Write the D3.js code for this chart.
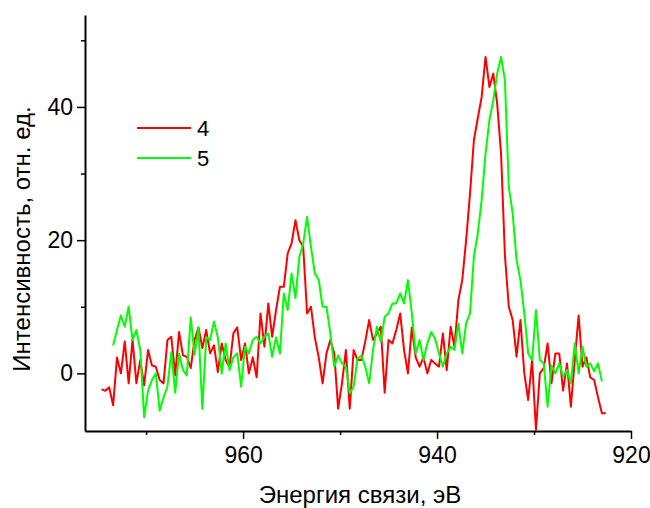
<!DOCTYPE html>
<html>
<head>
<meta charset="utf-8">
<script src="https://cdn.jsdelivr.net/npm/d3@7"></script>
<style>
  html, body { margin: 0; padding: 0; background: #fff; }
  svg { display: block; font-family: "Liberation Sans", Arial, sans-serif; }
</style>
</head>
<body>
<svg id="chart" width="650" height="508"></svg>
<script>
// Binding energy grid (eV)
const energies = [
  974.6, 974.2, 973.8, 973.4, 973.0, 972.6, 972.2, 971.8, 971.4, 971.0,
  970.6, 970.2, 969.8, 969.4, 969.0, 968.6, 968.2, 967.8, 967.4, 967.0,
  966.6, 966.2, 965.8, 965.4, 965.0, 964.6, 964.2, 963.8, 963.4, 963.0,
  962.6, 962.2, 961.8, 961.4, 961.0, 960.6, 960.2, 959.8, 959.4, 959.0,
  958.6, 958.2, 957.8, 957.4, 957.0, 956.6, 956.2, 955.8, 955.4, 955.0,
  954.6, 954.2, 953.8, 953.4, 953.0, 952.6, 952.2, 951.8, 951.4, 951.0,
  950.6, 950.2, 949.8, 949.4, 949.0, 948.6, 948.2, 947.8, 947.4, 947.0,
  946.6, 946.2, 945.8, 945.4, 945.0, 944.6, 944.2, 943.8, 943.4, 943.0,
  942.6, 942.2, 941.8, 941.4, 941.0, 940.6, 940.2, 939.8, 939.4, 939.0,
  938.6, 938.2, 937.8, 937.4, 937.0, 936.6, 936.2, 935.8, 935.4, 935.0,
  934.6, 934.2, 933.8, 933.4, 933.0, 932.6, 932.2, 931.8, 931.4, 931.0,
  930.6, 930.2, 929.8, 929.4, 929.0, 928.6, 928.2, 927.8, 927.4, 927.0,
  926.6, 926.2, 925.8, 925.4, 925.0, 924.6, 924.2, 923.8, 923.4, 923.0,
  922.6
];

// Series "4" (red)
const series4 = [
  -2.4, -2.6, -2.1, -4.8, 2.4, 0, 4.8, -1.5, 5, -1.5,
  2, -1.8, 3.5, 1.2, 1, -1, -1.5, 5, 5.5, -0.3,
  6.2, 2.7, 2.5, 0.8, 5, 6.9, 3.8, 6.5, 3, 4.2,
  0.2, 4.5, 2, 0.9, 6, 6.9, 2, 4.5, 0, 2.4,
  -0.6, 9, 4, 10.5, 5.5, 9.5, 13, 13, 18, 19.5,
  23, 20, 19, 9, 10, 5.4, 2.4, -1.5, 3, 5,
  3, -5.3, -1.5, 3.5, -5.3, 3.5, 2, 2, 4.8, 8,
  5, 6, 7, -2.9, 5, 4.5, 6.5, 9, 3.5, 0,
  6.9, 2.4, 1, 2.4, 0, 2, 1.5, 1, 6, 0.5,
  7, 4, 11, 14, 20, 27, 35, 38.3, 41.5, 47.5,
  43, 45, 40.5, 33, 17.7, 10, 8, 2.5, 8, 0,
  -4, 2, -8.5, 0, 0.8, 4.5, -1.5, 3, 3, -2.6,
  1.5, -5, 2, 8.7, 1, 2.4, -0.6, -1, -3.6, -6,
  -6
];

// Series "5" (green)
const series5 = [
  null, null, null, 4.2, 6.5, 8.7, 7, 10, 5, 6.5,
  3.5, -6.6, -2.6, -1, 0, -5.6, -3.6, -2, 3.2, -2.9,
  3, 0.5, -0.3, 8.4, 2.8, 6.8, -5.3, 5.4, 5, 7.8,
  5.4, 0, 4.5, 0.5, 2.4, 3, -2, 4, 3, 5,
  5.5, 4.5, 5.5, 6, 2.5, 5.4, 3, 12, 9.5, 15,
  11.3, 17.5, 19.5, 23.5, 19, 15, 14, 10, 10, 6,
  1, 2.7, 1.5, 1, -3, -2, 2.2, 2.7, 1, -1.5,
  3.5, 7, 4.7, 8.5, 9, 10.5, 10.5, 12, 10.5, 14,
  9, 3, 5, 2, 4.5, 6.2, 5.2, 3, 1, 3,
  4, 3.5, 7.5, 3, 7.5, 9, 17.5, 21, 26, 33,
  38, 41, 45, 47.5, 44, 28, 24, 17, 14, 9,
  3, 2, 9.5, 2, 1.5, -5, 1.2, 0, 1.5, -0.5,
  0.5, -1.5, 4.5, 0, 4, 1, 1.5, 0.3, 1.5, -1.2,
  null
];

const seriesNames = ["4", "5"];
const seriesColors = ["#ff0000", "#00ff00"];
const xMajorTicks = [960, 940, 920];
const xMinorTicks = [970, 950, 930];
const yMajorTicks = [0, 20, 40];
const yMinorTicks = [10, 30, 50];
const xTitle = "Энергия связи, эВ";
const yTitle = "Интенсивность, отн. ед.";

const svg = d3.select("#chart");
const plotLeft = 85, plotRight = 631, plotTop = 15, plotBottom = 431;

const x = d3.scaleLinear().domain([976.3, 920]).range([plotLeft, plotRight]);
const y = d3.scaleLinear().domain([-8.65, 53.8]).range([plotBottom, plotTop]);

const tickFont = 23, legendFont = 22, titleFont = 24;

// X axis
const gx = svg.append("g").attr("transform", `translate(0,${plotBottom})`);
gx.call(d3.axisBottom(x).tickValues(xMajorTicks).tickSize(8).tickSizeOuter(0).tickPadding(8).tickFormat(d3.format("d")));
gx.append("g").call(d3.axisBottom(x).tickValues(xMinorTicks).tickSize(4).tickFormat(""))
  .select(".domain").remove();
// Y axis
const gy = svg.append("g").attr("transform", `translate(${plotLeft},0)`);
gy.call(d3.axisLeft(y).tickValues(yMajorTicks).tickSize(8).tickSizeOuter(0).tickPadding(4).tickFormat(d3.format("d")));
gy.append("g").call(d3.axisLeft(y).tickValues(yMinorTicks).tickSize(4).tickFormat(""))
  .select(".domain").remove();

svg.selectAll(".domain").attr("stroke", "#000").attr("stroke-width", 2);
svg.selectAll(".tick line").attr("stroke", "#000").attr("stroke-width", 1.5);
svg.selectAll(".tick text").attr("fill", "#000").attr("font-size", tickFont)
  .attr("font-family", "'Liberation Sans', Arial, sans-serif");

// Lines
const allSeries = [series4, series5];
const line = d3.line()
  .defined(d => d.v !== null)
  .x(d => x(d.e))
  .y(d => y(d.v));

allSeries.forEach((vals, k) => {
  const pts = energies.map((e, i) => ({ e: e, v: vals[i] }));
  svg.append("path")
    .datum(pts)
    .attr("fill", "none")
    .attr("stroke", seriesColors[k])
    .attr("stroke-width", 2)
    .attr("stroke-linejoin", "round")
    .attr("d", line);
});

// Legend
const legend = svg.append("g");
seriesNames.forEach((name, k) => {
  const ly = 128 + k * 30;
  legend.append("line").attr("x1", 137).attr("x2", 191).attr("y1", ly).attr("y2", ly)
    .attr("stroke", seriesColors[k]).attr("stroke-width", 2);
  legend.append("text").attr("x", 197).attr("y", ly).attr("dy", "0.36em")
    .attr("font-size", legendFont).attr("fill", "#000").text(name);
});

// Axis titles
svg.append("text").attr("x", 360).attr("y", 503).attr("text-anchor", "middle")
  .attr("font-size", titleFont).attr("fill", "#000").text(xTitle);
svg.append("text").attr("transform", "translate(30,239) rotate(-90)").attr("text-anchor", "middle")
  .attr("font-size", titleFont).attr("fill", "#000").text(yTitle);
</script>
</body>
</html>
